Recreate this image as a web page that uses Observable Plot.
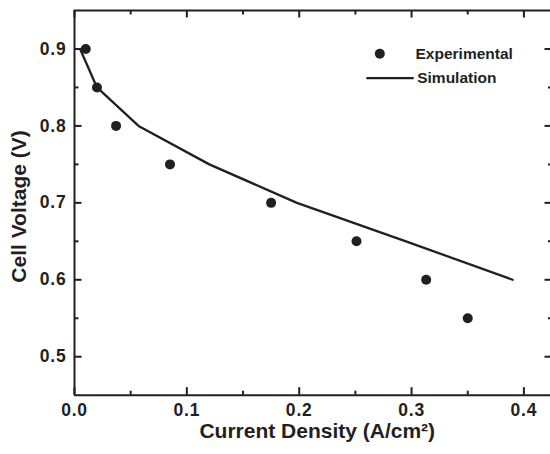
<!DOCTYPE html>
<html><head><meta charset="utf-8">
<script src="https://cdn.jsdelivr.net/npm/d3@7"></script>
<script src="https://cdn.jsdelivr.net/npm/@observablehq/plot@0.6"></script>
<style>
html,body{margin:0;padding:0;background:#fff;overflow:hidden;}
g[aria-label="x-title"] text{letter-spacing:0.9px;}
g[aria-label="y-title"] text{letter-spacing:0.6px;}
g[aria-label="x-axis tick label"] text, g[aria-label="y-axis tick label"] text{letter-spacing:0.8px;}
</style></head><body><div id="chart"></div>
<script>
// Data
const expCurrent = [0.01, 0.02, 0.037, 0.085, 0.175, 0.251, 0.313, 0.35];
const expVoltage = [0.90, 0.85, 0.80, 0.75, 0.70, 0.65, 0.60, 0.55];
const simCurrent = [0.005, 0.02, 0.057, 0.12, 0.198, 0.295, 0.39];
const simVoltage = [0.90, 0.85, 0.80, 0.75, 0.70, 0.65, 0.60];
const xMajorTicks = [0, 0.1, 0.2, 0.3, 0.4];
const xMinorTicks = [0.05, 0.15, 0.25, 0.35];
const yMajorTicks = [0.5, 0.6, 0.7, 0.8, 0.9];
const yMinorTicks = [0.55, 0.65, 0.75, 0.85];
const xDomain = [0, 0.425];
const yDomain = [0.45, 0.95];
const xLabel = "Current Density (A/cm²)";
const yLabel = "Cell Voltage (V)";
const seriesNames = ["Experimental", "Simulation"];

const ink = "#231f20";
const font = "'Liberation Sans', Arial, Helvetica, sans-serif";
const W = 550, H = 454, mL = 74, mR = -1.5, mT = 10, mB = 59.3;
const fw = W - mL - mR, fh = H - mT - mB;
const expData = expCurrent.map((c, i) => ({c, v: expVoltage[i]}));
const simData = simCurrent.map((c, i) => ({c, v: simVoltage[i]}));
const lineShape = {draw(ctx, l) { ctx.moveTo(0, 0); ctx.lineTo(0, -l); }};

// inward tick marks: full-frame ticks trimmed by insets to a few pixels
const xt = (ticks, side, len) => Plot.tickX(ticks, {x: d => d, stroke: ink, strokeWidth: 2,
  ...(side === "bottom" ? {insetTop: fh - len} : {insetBottom: fh - len})});
const yt = (ticks, side, len) => Plot.tickY(ticks, {y: d => d, stroke: ink, strokeWidth: 2,
  ...(side === "left" ? {insetRight: fw - len} : {insetLeft: fw - len})});

const plot = Plot.plot({
  width: W, height: H,
  marginLeft: mL, marginRight: mR, marginTop: mT, marginBottom: mB,
  style: {fontFamily: font, color: ink, background: "#fff"},
  x: {domain: xDomain},
  y: {domain: yDomain},
  marks: [
    xt(xMajorTicks, "bottom", 7.5), xt(xMinorTicks, "bottom", 4),
    xt(xMajorTicks, "top", 7.5), xt(xMinorTicks, "top", 4.5),
    yt(yMajorTicks, "left", 7.5), yt(yMinorTicks, "left", 4.5),
    yt(yMajorTicks, "right", 7), yt(yMinorTicks, "right", 3.5),
    // tick labels
    Plot.axisX(xMajorTicks, {anchor: "bottom", tickSize: 0, tickPadding: 8.5, tickFormat: d3.format(".1f"),
      fontSize: 17.5, fontWeight: "bold", fill: ink, label: null}),
    Plot.axisY(yMajorTicks, {anchor: "left", tickSize: 0, tickPadding: 8, tickFormat: d3.format(".1f"),
      fontSize: 17.5, fontWeight: "bold", fill: ink, label: null}),
    // box
    Plot.ruleX(xDomain, {x: d => d, stroke: ink, strokeWidth: 2}),
    Plot.ruleY(yDomain, {y: d => d, stroke: ink, strokeWidth: 2}),
    // axis titles
    Plot.text([xLabel], {x: null, y: null, text: d => d, frameAnchor: "bottom", dx: 4, dy: 35.6, ariaLabel: "x-title",
      textAnchor: "middle", lineAnchor: "middle", fontSize: 21, fontWeight: "bold", fill: ink}),
    Plot.text([yLabel], {x: null, y: null, text: d => d, frameAnchor: "left", dx: -55, dy: 3.6, rotate: -90, ariaLabel: "y-title",
      textAnchor: "middle", lineAnchor: "middle", fontSize: 21, fontWeight: "bold", fill: ink}),
    // data
    Plot.line(simData, {x: "c", y: "v", stroke: ink, strokeWidth: 2.3}),
    Plot.dot(expData, {x: "c", y: "v", r: 5, fill: ink, stroke: "none"}),
    // legend
    Plot.dot([seriesNames[0]], {x: null, y: null, frameAnchor: "top-right", dx: -172.2, dy: 43.3, r: 5, fill: ink, stroke: "none"}),
    Plot.text([seriesNames[0]], {x: null, y: null, text: d => d, frameAnchor: "top-right", dx: -136.5, dy: 43.5,
      textAnchor: "start", lineAnchor: "middle", fontSize: 15.5, fontWeight: "bold", fill: ink}),
    Plot.vector([seriesNames[1]], {x: null, y: null, frameAnchor: "top-right", dx: -184.8, dy: 67.7, length: 45.6,
      rotate: 90, anchor: "start", shape: lineShape, stroke: ink, strokeWidth: 2.3}),
    Plot.text([seriesNames[1]], {x: null, y: null, text: d => d, frameAnchor: "top-right", dx: -134.8, dy: 68,
      textAnchor: "start", lineAnchor: "middle", fontSize: 15.5, fontWeight: "bold", fill: ink})
  ]
});
document.getElementById("chart").appendChild(plot);
</script></body></html>
